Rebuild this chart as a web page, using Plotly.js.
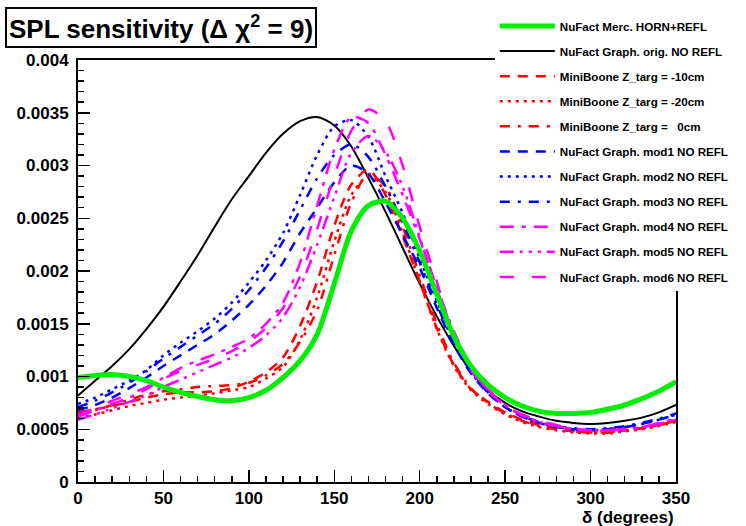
<!DOCTYPE html>
<html>
<head>
<meta charset="utf-8">
<script src="https://cdn.plot.ly/plotly-3.0.1.min.js"></script>
<style>html,body{margin:0;padding:0;background:#fff;}#chart{width:746px;height:526px;}</style>
</head>
<body>
<div id="chart"></div>
<script>
// ---- data ----
const delta = [0,10,20,30,40,50,60,70,80,90,100,110,120,130,140,150,160,170,180,190,200,210,220,230,240,250,260,270,280,290,300,310,320,330,340,350];

const mercHornRefl = [0.00099,0.00101,0.00102,0.00100,0.00096,0.00090,0.00085,0.00081,0.00078,0.00077,0.00080,0.00087,0.00099,0.00115,0.00140,0.00188,0.00238,0.00262,0.00266,0.00250,0.00219,0.00178,0.00138,0.00110,0.00092,0.00080,0.00072,0.00067,0.00065,0.00065,0.00066,0.00069,0.00073,0.00079,0.00086,0.00095];
const graphOrig = [0.00082,0.00096,0.00110,0.00126,0.00145,0.00166,0.00190,0.00215,0.00242,0.00268,0.00290,0.00312,0.00330,0.00342,0.00346,0.00338,0.00318,0.00288,0.00256,0.00222,0.00188,0.00157,0.00129,0.00105,0.00087,0.00075,0.00067,0.00062,0.00058,0.00056,0.00055,0.00056,0.00058,0.00061,0.00066,0.00073];
const mbZm10 = [0.00066,0.00069,0.00072,0.00076,0.00080,0.00083,0.00085,0.00085,0.00086,0.00089,0.00095,0.00104,0.00118,0.00148,0.00190,0.00243,0.00282,0.00296,0.00272,0.00233,0.00190,0.00146,0.00111,0.00088,0.00076,0.00066,0.00059,0.00054,0.00051,0.00048,0.00047,0.00047,0.00049,0.00051,0.00054,0.00058];
const mbZm20 = [0.00061,0.00064,0.00068,0.00072,0.00075,0.00078,0.00080,0.00082,0.00084,0.00087,0.00090,0.00098,0.00109,0.00135,0.00175,0.00228,0.00272,0.00290,0.00275,0.00236,0.00190,0.00145,0.00110,0.00087,0.00074,0.00064,0.00057,0.00052,0.00049,0.00047,0.00046,0.00046,0.00048,0.00050,0.00053,0.00057];
const mbZ0 = [0.00063,0.00068,0.00073,0.00078,0.00083,0.00086,0.00088,0.00090,0.00091,0.00092,0.00094,0.00101,0.00112,0.00133,0.00163,0.00215,0.00265,0.00292,0.00280,0.00242,0.00196,0.00150,0.00113,0.00089,0.00075,0.00065,0.00058,0.00053,0.00050,0.00048,0.00047,0.00047,0.00049,0.00051,0.00054,0.00058];
const graphMod1 = [0.00068,0.00073,0.00080,0.00089,0.00099,0.00110,0.00120,0.00130,0.00140,0.00153,0.00168,0.00186,0.00208,0.00236,0.00260,0.00284,0.00300,0.00292,0.00265,0.00234,0.00203,0.00165,0.00130,0.00103,0.00084,0.00071,0.00062,0.00056,0.00052,0.00050,0.00049,0.00050,0.00052,0.00055,0.00059,0.00064];
const graphMod2 = [0.00074,0.00080,0.00088,0.00096,0.00106,0.00120,0.00132,0.00143,0.00155,0.00170,0.00189,0.00210,0.00236,0.00272,0.00310,0.00337,0.00343,0.00327,0.00290,0.00255,0.00212,0.00172,0.00135,0.00105,0.00085,0.00071,0.00062,0.00056,0.00052,0.00050,0.00049,0.00050,0.00052,0.00055,0.00059,0.00064];
const graphMod3 = [0.00071,0.00077,0.00085,0.00094,0.00105,0.00117,0.00128,0.00139,0.00150,0.00164,0.00182,0.00203,0.00228,0.00258,0.00288,0.00310,0.00320,0.00308,0.00280,0.00246,0.00208,0.00168,0.00133,0.00104,0.00085,0.00071,0.00062,0.00057,0.00053,0.00051,0.00050,0.00051,0.00053,0.00056,0.00060,0.00065];
const graphMod4 = [0.00062,0.00068,0.00074,0.00080,0.00088,0.00099,0.00108,0.00115,0.00121,0.00128,0.00136,0.00150,0.00170,0.00208,0.00262,0.00315,0.00346,0.00340,0.00310,0.00272,0.00230,0.00185,0.00143,0.00110,0.00088,0.00073,0.00063,0.00057,0.00053,0.00050,0.00049,0.00049,0.00050,0.00052,0.00056,0.00060];
const graphMod5 = [0.00059,0.00064,0.00070,0.00076,0.00082,0.00090,0.00097,0.00104,0.00111,0.00118,0.00127,0.00139,0.00156,0.00185,0.00225,0.00270,0.00312,0.00328,0.00313,0.00280,0.00232,0.00183,0.00140,0.00108,0.00087,0.00073,0.00063,0.00057,0.00053,0.00050,0.00049,0.00049,0.00050,0.00052,0.00055,0.00060];
const graphMod6 = [0.00064,0.00070,0.00077,0.00083,0.00090,0.00098,0.00105,0.00111,0.00117,0.00124,0.00133,0.00146,0.00165,0.00195,0.00240,0.00290,0.00333,0.00353,0.00342,0.00300,0.00242,0.00190,0.00138,0.00106,0.00086,0.00073,0.00064,0.00058,0.00054,0.00051,0.00049,0.00049,0.00050,0.00052,0.00055,0.00059];

const seriesNames = [
  "NuFact Merc. HORN+REFL",
  "NuFact Graph. orig. NO REFL",
  "MiniBoone Z_targ = -10cm",
  "MiniBoone Z_targ = -20cm",
  "MiniBoone Z_targ =   0cm",
  "NuFact Graph. mod1 NO REFL",
  "NuFact Graph. mod2 NO REFL",
  "NuFact Graph. mod3 NO REFL",
  "NuFact Graph. mod4 NO REFL",
  "NuFact Graph. mod5 NO REFL",
  "NuFact Graph. mod6 NO REFL"
];
const xTickVals = [0,50,100,150,200,250,300,350];
const xTickText = ["0","50","100","150","200","250","300","350"];
const yTickVals = [0,0.0005,0.001,0.0015,0.002,0.0025,0.003,0.0035,0.004];
const yTickText = ["0","0.0005","0.001","0.0015","0.002","0.0025","0.003","0.0035","0.004"];

// ---- styles ----
const seriesData = [mercHornRefl, graphOrig, mbZm10, mbZm20, mbZ0, graphMod1, graphMod2, graphMod3, graphMod4, graphMod5, graphMod6];
const styles = [
  {color:'#00ee00', width:5,   dash:'solid'},
  {color:'#000000', width:2,   dash:'solid'},
  {color:'#ff0000', width:2.5, dash:'10px,8px'},
  {color:'#ff0000', width:2.5, dash:'3px,5px'},
  {color:'#ff0000', width:2.5, dash:'10px,8px,3px,8px'},
  {color:'#0000ff', width:2.5, dash:'10px,8px'},
  {color:'#0000ff', width:2.5, dash:'3px,5px'},
  {color:'#0000ff', width:2.5, dash:'10px,8px,3px,8px'},
  {color:'#ff00ff', width:2.5, dash:'14px,8px,4px,8px'},
  {color:'#ff00ff', width:2.5, dash:'14px,6px,3px,6px,3px,6px,3px,6px'},
  {color:'#ff00ff', width:2.5, dash:'14px,18px'}
];
const drawOrder = [1,2,3,4,5,6,7,8,9,10,0];

const traces = drawOrder.map(i => ({
  type:'scatter', mode:'lines', x: delta, y: seriesData[i], name: seriesNames[i],
  legendgroup: 'g'+i, legendrank: i+1,
  line: {color: styles[i].color, width: styles[i].width, dash: styles[i].dash, shape:'spline', smoothing:0.8}
}));

const tickFont = {family:'Liberation Sans, Arial, sans-serif', size:17, color:'black', weight:'bold'};

const layout = {
  width:746, height:526,
  margin:{l:78, r:41, t:57, b:44},
  paper_bgcolor:'white', plot_bgcolor:'white',
  showlegend:true,
  xaxis:{
    range:[0,350], tickvals:xTickVals, ticktext:xTickText,
    showgrid:false, zeroline:false, showline:true, linecolor:'black', linewidth:2, mirror:true,
    ticks:'inside', ticklen:12, tickwidth:1.5, tickcolor:'black',
    minor:{dtick:10, ticks:'inside', ticklen:6, tickwidth:1.5, tickcolor:'black'},
    tickfont:tickFont, ticklabelstandoff:0
  },
  yaxis:{
    range:[0,0.004], tickvals:yTickVals, ticktext:yTickText,
    showgrid:false, zeroline:false, showline:true, linecolor:'black', linewidth:2, mirror:true,
    ticks:'inside', ticklen:12, tickwidth:1.5, tickcolor:'black',
    minor:{dtick:0.0001, ticks:'inside', ticklen:6, tickwidth:1.5, tickcolor:'black'},
    tickfont:tickFont, ticklabelstandoff:4
  },
  legend:{
    x:0.697, xanchor:'left', y:1.115, yanchor:'top', maxheight:520,
    bgcolor:'white', borderwidth:0, traceorder:'grouped', tracegroupgap:6.1,
    itemwidth:55,
    font:{family:'Liberation Sans, Arial, sans-serif', size:11.6, color:'black', weight:'bold'}
  },
  annotations:[
    {xref:'paper', yref:'paper', x:0.139, y:1.078, xanchor:'center', yanchor:'middle',
     text:'SPL sensitivity (Δ χ<sup>2</sup> = 9)', showarrow:false,
     font:{family:'Liberation Sans, Arial, sans-serif', size:26, color:'black', weight:'bold'},
     bordercolor:'black', borderwidth:2, borderpad:2, bgcolor:'white'},
    {xref:'paper', yref:'paper', x:1, y:-0.084, xanchor:'right', yanchor:'middle',
     text:'δ (degrees)', showarrow:false,
     font:{family:'Liberation Sans, Arial, sans-serif', size:17, color:'black', weight:'bold'}}
  ]
};

Plotly.newPlot('chart', traces, layout, {displayModeBar:false, staticPlot:true});
</script>
</body>
</html>
